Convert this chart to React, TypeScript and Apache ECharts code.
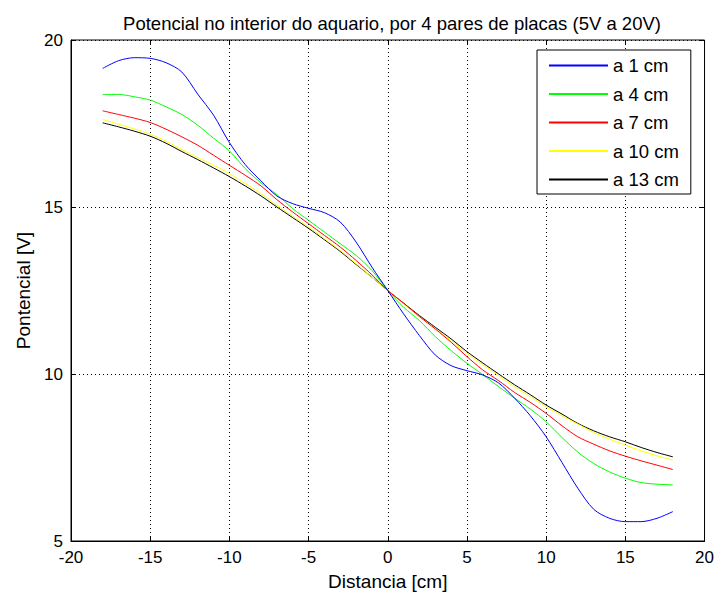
import React, { useEffect, useRef } from "react";
import * as echarts from "echarts";

const distances = [
  -18, -17, -16, -15, -14, -13, -12, -11, -10, -9, -8, -7, -6, -5, -4, -3, -2, -1, 0,
  1, 2, 3, 4, 5, 6, 7, 8, 9, 10, 11, 12, 13, 14, 15, 16, 17, 18,
];

const a1cm = [
  19.15, 19.38, 19.47, 19.45, 19.32, 19.04, 18.38, 17.75, 16.93, 16.27, 15.78, 15.33, 15.1, 14.96, 14.83, 14.55, 13.95, 13.2, 12.5,
  11.8, 11.15, 10.57, 10.25, 10.1, 9.97, 9.73, 9.28, 8.75, 8.12, 7.35, 6.58, 5.95, 5.68, 5.58, 5.58, 5.68, 5.88,
];
const a4cm = [
  18.37, 18.37, 18.3, 18.2, 18.0, 17.77, 17.45, 17.06, 16.68, 16.15, 15.72, 15.37, 14.95, 14.6, 14.25, 13.9, 13.55, 13.1, 12.5,
  12.0, 11.6, 11.12, 10.7, 10.32, 9.98, 9.62, 9.28, 8.95, 8.57, 8.1, 7.66, 7.32, 7.07, 6.88, 6.75, 6.7, 6.68,
];
const a7cm = [
  17.88, 17.77, 17.66, 17.53, 17.33, 17.1, 16.85, 16.55, 16.25, 15.95, 15.63, 15.22, 14.85, 14.5, 14.15, 13.8, 13.4, 12.97, 12.5,
  12.12, 11.72, 11.35, 10.95, 10.52, 10.12, 9.8, 9.45, 9.15, 8.82, 8.45, 8.12, 7.9, 7.7, 7.54, 7.4, 7.27, 7.14,
];
const a10cm = [
  17.62, 17.48, 17.34, 17.18, 16.97, 16.72, 16.48, 16.25, 16.0, 15.7, 15.4, 15.05, 14.72, 14.4, 14.05, 13.7, 13.3, 12.9, 12.5,
  12.1, 11.72, 11.35, 11.0, 10.62, 10.28, 9.95, 9.62, 9.32, 9.02, 8.75, 8.5, 8.25, 8.05, 7.87, 7.7, 7.55, 7.42,
];
const a13cm = [
  17.52, 17.4, 17.27, 17.12, 16.91, 16.66, 16.42, 16.17, 15.91, 15.63, 15.33, 15.0, 14.68, 14.36, 14.02, 13.67, 13.28, 12.9, 12.5,
  12.12, 11.75, 11.4, 11.05, 10.67, 10.33, 10.0, 9.68, 9.38, 9.07, 8.8, 8.52, 8.3, 8.12, 7.97, 7.8, 7.65, 7.52,
];

const seriesNames = ["a 1 cm", "a 4 cm", "a 7 cm", "a 10 cm", "a 13 cm"];
const seriesValues = [a1cm, a4cm, a7cm, a10cm, a13cm];
const seriesColors = ["#0000ff", "#00ff00", "#ff0000", "#ffff00", "#000000"];

const titleText = "Potencial no interior do aquario, por 4 pares de placas (5V a 20V)";
const xName = "Distancia [cm]";
const yName = "Pontencial [V]";

const FONT = "Liberation Sans, Arial, Helvetica, sans-serif";

export default function App() {
  const ref = useRef<HTMLDivElement>(null);
  useEffect(() => {
    document.body.style.margin = "0";
    if (!ref.current) return;
    const chart = echarts.init(ref.current, null, { renderer: "svg" });
    const gridLine = { show: true, lineStyle: { color: "#000", width: 1, type: [1, 3] as any } };
    const hiddenAxisBase = {
      axisLine: { show: false, onZero: false },
      axisLabel: { show: false },
      splitLine: { show: false },
      axisTick: { show: true, inside: true, length: 5, lineStyle: { color: "#000" } },
    };
    chart.setOption({
      animation: false,
      backgroundColor: "#fff",
      textStyle: { fontFamily: FONT },
      title: {
        text: titleText,
        left: 387,
        textAlign: "center",
        top: 9,
        textStyle: { fontFamily: FONT, fontSize: 18.5, lineHeight: 19, fontWeight: "normal", color: "#000" },
      },
      grid: {
        left: 71,
        right: 11,
        top: 40,
        bottom: 55,
        show: true,
        borderColor: "#000",
        borderWidth: 1,
        backgroundColor: "#fff",
      },
      legend: {
        orient: "vertical",
        left: 537,
        top: 50,
        padding: [6, 12, 5, 12],
        itemWidth: 59,
        itemHeight: 14,
        itemGap: 9.5,
        backgroundColor: "#fff",
        borderColor: "#000",
        borderWidth: 1,
        borderRadius: 0,
        icon: "path://M0,6 L59,6 L59,8 L0,8 Z",
        textStyle: { fontFamily: FONT, fontSize: 18.5, color: "#000" },
        data: seriesNames.map((n, i) => ({ name: n, itemStyle: { color: seriesColors[i] } })),
      },
      xAxis: [
        {
          type: "value",
          min: -20,
          max: 20,
          interval: 5,
          position: "bottom",
          name: xName,
          nameLocation: "middle",
          nameGap: 31,
          nameTextStyle: { fontFamily: FONT, fontSize: 19, color: "#000" },
          axisLine: { show: true, onZero: false, lineStyle: { color: "#000", width: 1 } },
          axisTick: { show: true, inside: true, length: 5, lineStyle: { color: "#000" } },
          axisLabel: { color: "#000", fontFamily: FONT, fontSize: 17, margin: 8 },
          splitLine: gridLine,
        },
        { type: "value", min: -20, max: 20, interval: 5, position: "top", ...hiddenAxisBase },
      ],
      yAxis: [
        {
          type: "value",
          min: 5,
          max: 20,
          interval: 5,
          position: "left",
          name: yName,
          nameLocation: "middle",
          nameGap: 38,
          nameTextStyle: { fontFamily: FONT, fontSize: 19, color: "#000" },
          axisLine: { show: true, onZero: false, lineStyle: { color: "#000", width: 1 } },
          axisTick: { show: true, inside: true, length: 5, lineStyle: { color: "#000" } },
          axisLabel: { color: "#000", fontFamily: FONT, fontSize: 17, margin: 8 },
          splitLine: gridLine,
        },
        { type: "value", min: 5, max: 20, interval: 5, position: "right", ...hiddenAxisBase },
      ],
      series: seriesNames.map((name, i) => ({
        name,
        type: "line",
        xAxisIndex: 0,
        yAxisIndex: 0,
        showSymbol: false,
        symbol: "none",
        smooth: 0.3,
        lineStyle: { color: seriesColors[i], width: 1 },
        itemStyle: { color: seriesColors[i] },
        data: distances.map((d, j) => [d, seriesValues[i][j]]),
        z: 10 - i,
      })),
    });
    return () => chart.dispose();
  }, []);
  return <div ref={ref} style={{ width: 717, height: 596 }} />;
}
